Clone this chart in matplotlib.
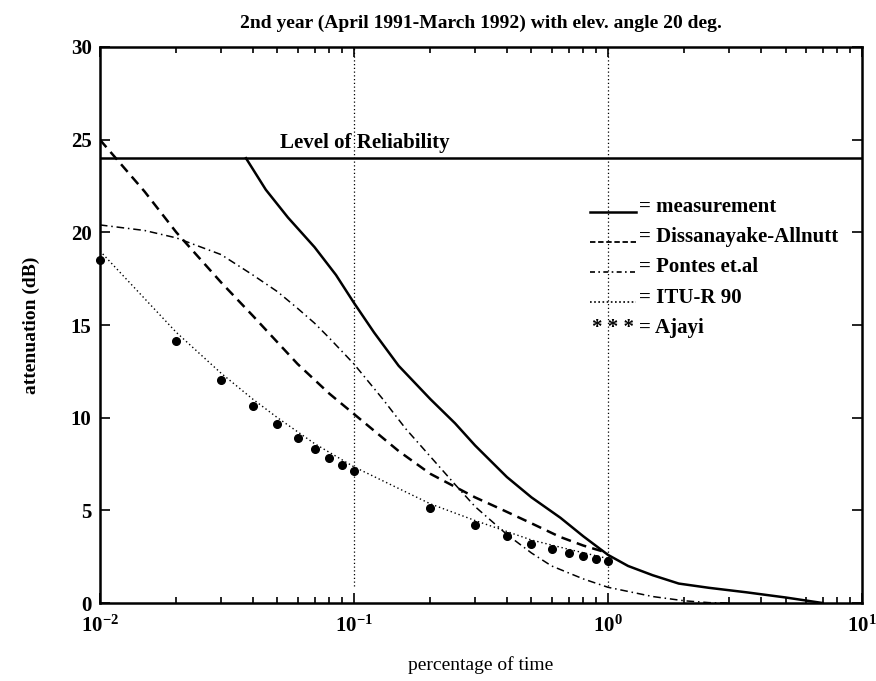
import matplotlib
matplotlib.use("Agg")
import numpy as np
import matplotlib.pyplot as plt
from matplotlib.lines import Line2D
from matplotlib.ticker import FuncFormatter, NullFormatter

plt.rcParams["font.family"] = ["Liberation Serif", "DejaVu Serif"]
plt.rcParams["mathtext.fontset"] = "custom"
plt.rcParams["mathtext.rm"] = "Liberation Serif:bold"
plt.rcParams["mathtext.it"] = "Liberation Serif:bold:italic"
plt.rcParams["mathtext.bf"] = "Liberation Serif:bold"

# measured attenuation vs percentage of time
meas_x = [0.0376, 0.045, 0.055, 0.07, 0.085, 0.1, 0.12, 0.15, 0.2, 0.25,
          0.3, 0.4, 0.5, 0.65, 0.8, 1.0, 1.2, 1.5, 1.9, 2.5, 3.5, 5.0, 7.0]
meas_y = [24.0, 22.3, 20.8, 19.2, 17.7, 16.2, 14.6, 12.8, 11.0, 9.7,
          8.5, 6.8, 5.7, 4.6, 3.6, 2.6, 2.0, 1.5, 1.05, 0.82, 0.58, 0.3, 0.0]

# Dissanayake-Allnutt
da_x = [0.01, 0.015, 0.02, 0.03, 0.04, 0.06, 0.08, 0.1, 0.15, 0.2,
        0.3, 0.376, 0.5, 0.647, 0.8, 1.0]
da_y = [25.0, 22.2, 20.0, 17.3, 15.5, 12.9, 11.3, 10.2, 8.2, 6.97,
        5.7, 5.09, 4.3, 3.57, 3.1, 2.7]

# Pontes et.al
po_x = [0.01, 0.015, 0.02, 0.03, 0.04, 0.05, 0.06, 0.07, 0.08, 0.1,
        0.13, 0.16, 0.2, 0.25, 0.3, 0.4, 0.5, 0.6, 0.8, 1.0,
        1.5, 2.0, 2.5, 3.0]
po_y = [20.4, 20.1, 19.7, 18.8, 17.7, 16.8, 15.9, 15.1, 14.3, 12.9,
        11.0, 9.4, 7.9, 6.4, 5.2, 3.7, 2.7, 2.0, 1.3, 0.85,
        0.35, 0.12, 0.02, 0.0]

# ITU-R 90
itu_x = [0.01, 0.0153, 0.02, 0.03, 0.04, 0.05, 0.07, 0.1, 0.2, 0.3, 0.5, 0.7, 1.0]
itu_y = [19.0, 16.3, 14.6, 12.4, 11.0, 10.0, 8.6, 7.35, 5.35, 4.45, 3.4, 2.9, 2.4]

# Ajayi
aj_x = [0.01, 0.02, 0.03, 0.04, 0.05, 0.06, 0.07, 0.08, 0.09, 0.1,
        0.2, 0.3, 0.4, 0.5, 0.6, 0.7, 0.8, 0.9, 1.0]
aj_y = [18.5, 14.14, 12.03, 10.63, 9.66, 8.92, 8.33, 7.85, 7.46, 7.1,
        5.12, 4.23, 3.6, 3.2, 2.9, 2.7, 2.53, 2.35, 2.26]

reliability = 24.0
legend_names = ["= measurement", "= Dissanayake-Allnutt", "= Pontes et.al",
                "= ITU-R 90", "= Ajayi"]

fig = plt.figure(figsize=(8.76, 6.81), dpi=100)
ax = fig.add_axes([0.114, 0.1145, 0.87, 0.8165])

ax.plot(meas_x, meas_y, "k-", lw=1.8)
ax.plot(da_x, da_y, color="k", ls=(0, (4, 2.5)), lw=1.8)
ax.plot(po_x, po_y, color="k", ls=(0, (5, 2.5, 1, 2.5)), lw=1.1)
ax.plot(itu_x, itu_y, color="k", ls=(0, (1, 2)), lw=1.0)
ax.plot(aj_x, aj_y, "ko", ms=5.5, ls="none", clip_on=False)

ax.axhline(reliability, color="k", lw=1.8)
ax.text(0.051, reliability + 0.3, "Level of Reliability", fontsize=15,
        fontweight="bold", ha="left", va="bottom")
ax.vlines([0.1, 1.0], 0.9, 30, colors="k", linestyles=(0, (1, 2)), lw=0.9)

# legend drawn as text rows, MATLAB style
styles = [dict(ls="-", lw=1.8), dict(ls=(0, (3, 1.5)), lw=1.3),
          dict(ls=(0, (3, 2, 1, 2)), lw=1.2), dict(ls=(0, (1, 1.5)), lw=1.2)]
row_y = [0.712, 0.658, 0.604, 0.549, 0.495]
for i, name in enumerate(legend_names):
    if i < 4:
        ax.add_line(Line2D([0.643, 0.703], [row_y[i] - 0.008] * 2,
                           transform=ax.transAxes, color="k", **styles[i]))
    else:
        ax.text(0.673, row_y[i], "* * *", transform=ax.transAxes, fontsize=15,
                fontweight="bold", ha="center", va="center")
    ax.text(0.708, row_y[i], name, transform=ax.transAxes, fontsize=15,
            fontweight="bold", ha="left", va="center")

ax.set_xscale("log")
ax.set_xlim(0.01, 10)
ax.set_ylim(0, 30)
ax.set_yticks([0, 5, 10, 15, 20, 25, 30])
ax.xaxis.set_major_formatter(
    FuncFormatter(lambda v, p: r"$10^{%d}$" % int(round(np.log10(v)))))
ax.xaxis.set_minor_formatter(NullFormatter())
for lab in ax.get_yticklabels():
    lab.set_fontweight("bold")
ax.tick_params(which="both", direction="in", top=True, right=True,
               labelsize=15, width=1.2)
ax.tick_params(which="major", length=7, pad=6)
ax.tick_params(axis="x", which="major", pad=9)
ax.tick_params(which="minor", length=4)
for s in ax.spines.values():
    s.set_linewidth(1.8)

ax.set_xlabel("percentage of time", fontsize=14, labelpad=14)
ax.set_ylabel("attenuation (dB)", fontsize=14, fontweight="bold", labelpad=22)
ax.set_title("2nd year (April 1991-March 1992) with elev. angle 20 deg.",
             fontsize=14, fontweight="bold", pad=14)

fig.savefig("out.png", dpi=100)
